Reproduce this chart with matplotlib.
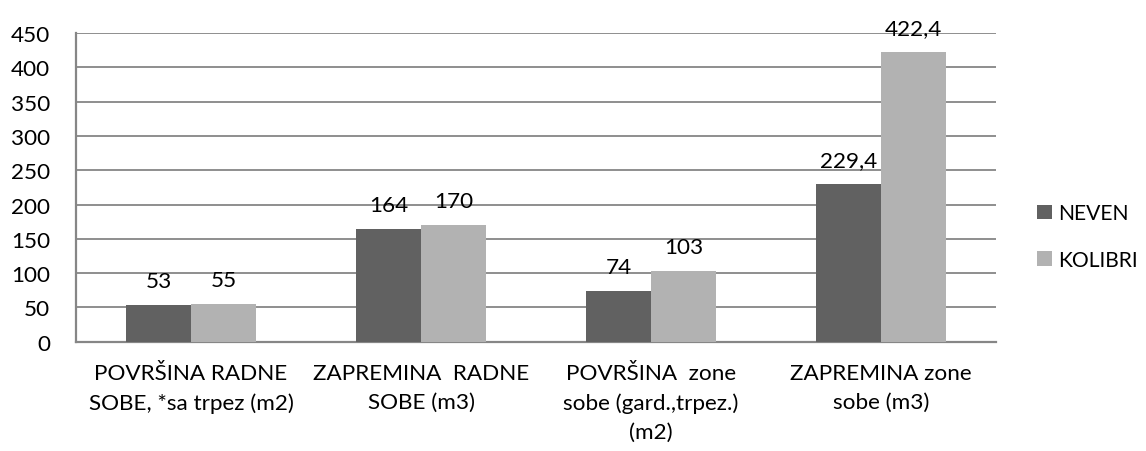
import matplotlib
matplotlib.use("Agg")
import matplotlib.pyplot as plt
import numpy as np

categories = ["POVRŠINA RADNE\nSOBE, *sa trpez (m2)",
              "ZAPREMINA  RADNE\nSOBE (m3)",
              "POVRŠINA  zone\nsobe (gard.,trpez.)\n(m2)",
              "ZAPREMINA zone\nsobe (m3)"]
series_names = ["NEVEN", "KOLIBRI"]
neven = [53, 164, 74, 229.4]
kolibri = [55, 170, 103, 422.4]
yticks = [0, 50, 100, 150, 200, 250, 300, 350, 400, 450]

plt.rcParams['font.family'] = ['Lato', 'DejaVu Sans']
FS = 16.2

fig = plt.figure(figsize=(11.46, 4.52), dpi=100)
W, H = 1146, 452
ax = fig.add_axes([76 / W, (H - 342.7) / H, (996 - 76) / W, (342.7 - 34) / H])

x = np.arange(len(categories))
bw = 0.283
dark = "#616161"
light = "#b2b2b2"
b1 = ax.bar(x - bw / 2, neven, bw, color=dark, label=series_names[0], zorder=3)
b2 = ax.bar(x + bw / 2, kolibri, bw, color=light, label=series_names[1], zorder=3)

def fmt(v):
    return f"{v:g}".replace('.', ',')

ax.bar_label(b1, labels=[fmt(v) for v in neven], padding=10, fontsize=FS, color="#000000")
ax.bar_label(b2, labels=[fmt(v) for v in kolibri], padding=10, fontsize=FS, color="#000000")

ax.set_xlim(-0.5, len(categories) - 0.5)
ax.set_ylim(0, 450)
ax.set_yticks(yticks)
ax.set_yticklabels([str(t) for t in yticks], fontsize=FS)
ax.set_xticks(x)
ax.set_xticklabels(categories, fontsize=FS, linespacing=1.58)
ax.tick_params(axis='y', length=0, pad=18.5)
ax.tick_params(axis='x', length=0, pad=15)
ax.yaxis.grid(True, color="#868686", linewidth=1.3, zorder=0)
ax.set_axisbelow(True)
for s in ["top", "right"]:
    ax.spines[s].set_visible(False)
for s in ["left", "bottom"]:
    ax.spines[s].set_color("#868686")
    ax.spines[s].set_linewidth(1.6)

fig.legend(handles=[b1, b2], labels=series_names, loc="center left",
           bbox_to_anchor=(1037 / W, (H - 237.5) / H), frameon=False,
           fontsize=15.2, handlelength=0.7, handleheight=0.7, handletextpad=0.3,
           labelspacing=1.25, borderpad=0, borderaxespad=0)

fig.savefig("out.png", dpi=100)
